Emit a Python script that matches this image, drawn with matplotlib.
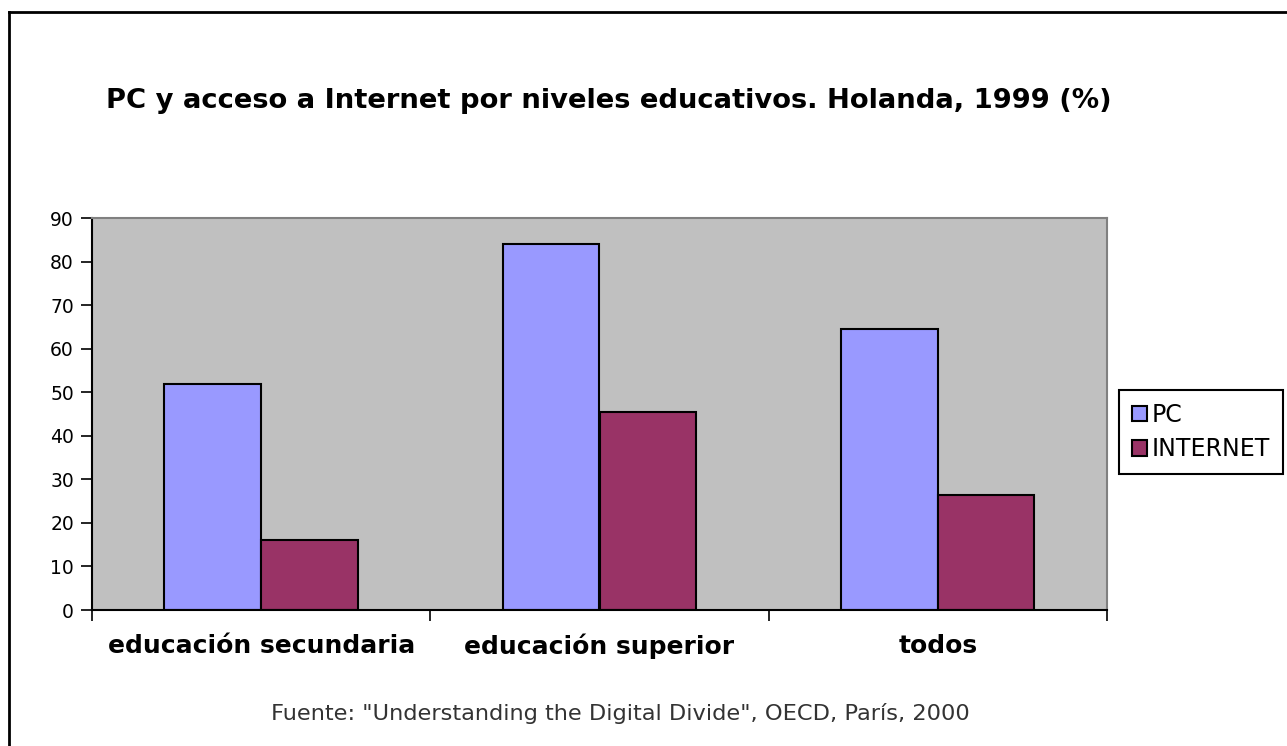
import matplotlib.pyplot as plt
from matplotlib.lines import Line2D
import numpy as np

categorias = ['educación secundaria', 'educación superior', 'todos']
pc = [52, 84, 64.5]
internet = [16, 45.5, 26.5]
series = ['PC', 'INTERNET']
yticks = list(range(0, 91, 10))

plt.rcParams['font.family'] = ['DejaVu Sans']

fig = plt.figure(figsize=(12.87, 7.46), dpi=100)
ax = fig.add_axes([92 / 1287, 1 - 610 / 746, 1015 / 1287, 392 / 746])
ax.set_facecolor('#C0C0C0')

x = np.arange(len(categorias))
w = 1 / 3.5
ax.bar(x - w / 2, pc, w, color='#9999FF', edgecolor='black', linewidth=1.5, label=series[0])
ax.bar(x + w / 2, internet, w, color='#993366', edgecolor='black', linewidth=1.5, label=series[1])

ax.set_xlim(-0.5, len(categorias) - 0.5)
ax.set_ylim(0, 90)
ax.set_yticks(yticks)
ax.tick_params(axis='y', labelsize=13.5, length=8, width=1.2, direction='out', pad=5)

# ticks en los limites de categoria, etiquetas centradas
ax.set_xticks(np.arange(len(categorias) + 1) - 0.5)
ax.set_xticklabels([])
ax.set_xticks(x, minor=True)
ax.set_xticklabels(categorias, minor=True, fontsize=18, fontweight='bold')
ax.tick_params(axis='x', which='major', length=8, width=1.2, direction='out')
ax.tick_params(axis='x', which='minor', length=0, pad=17)

for s in ['top', 'right']:
    ax.spines[s].set_color('#808080')
    ax.spines[s].set_linewidth(1.5)
for s in ['left', 'bottom']:
    ax.spines[s].set_color('black')
    ax.spines[s].set_linewidth(1.5)

fig.text(0.473, 1 - 101 / 746, 'PC y acceso a Internet por niveles educativos. Holanda, 1999 (%)',
         ha='center', va='center', fontsize=19.7, fontweight='bold')
fig.text(0.482, 1 - 714 / 746, 'Fuente: "Understanding the Digital Divide", OECD, París, 2000',
         ha='center', va='center', fontsize=16.2, color='#333333')

leg = fig.legend(loc='center left', bbox_to_anchor=(1119 / 1287, 1 - 432 / 746),
                 fontsize=17, frameon=True, fancybox=False, framealpha=1,
                 edgecolor='black', handlelength=0.65, handleheight=0.65,
                 handletextpad=0.2, borderpad=0.55, labelspacing=0.45, borderaxespad=0)
leg.get_frame().set_linewidth(1.5)

# marco exterior del grafico (solo arriba e izquierda visibles)
fig.add_artist(Line2D([9 / 1287, 1], [1 - 12 / 746, 1 - 12 / 746], color='black', lw=2))
fig.add_artist(Line2D([9 / 1287, 9 / 1287], [0, 1 - 12 / 746], color='black', lw=2))

fig.savefig('out.png', dpi=100)
